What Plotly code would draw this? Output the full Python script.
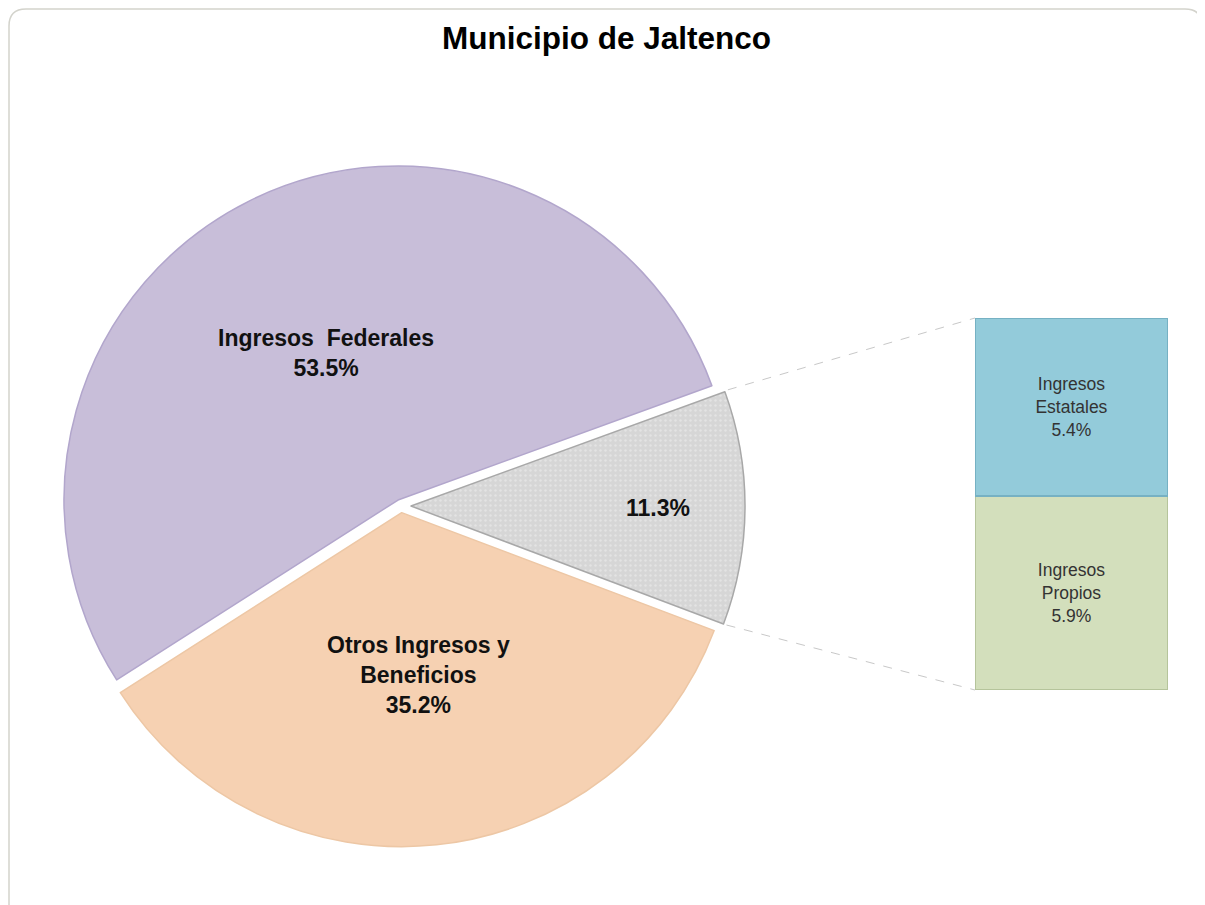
import math
import plotly.graph_objects as go

# ---------------- data ----------------
title_text = "Municipio de Jaltenco"

pie_labels = ["Ingresos Federales", "Otros Ingresos y Beneficios", "Otros"]
pie_values = [53.5, 35.2, 11.3]
pie_text = ["<b>Ingresos  Federales<br>53.5%</b>",
            "<b>Otros Ingresos y<br>Beneficios<br>35.2%</b>",
            "<b>11.3%</b>"]
pie_colors = ["#C8BED9", "#F6D1B2", "#D6D6D6"]
pie_edges = ["#B2A6CC", "#EDC7A5", "#A8A8A8"]
pie_pull = [0.02, 0.02, 0.03]
pie_label_frac = [0.49, 0.49, 0.74]

bar_labels = ["Ingresos Propios", "Ingresos Estatales"]   # bottom -> top
bar_values = [5.9, 5.4]
bar_text = ["Ingresos<br>Propios<br>5.9%", "Ingresos<br>Estatales<br>5.4%"]
bar_colors = ["#D3DFBC", "#93CBDA"]
bar_edges = ["#B5C49B", "#76B1C3"]

# ---------------- layout geometry (reference pixels) ----------------
OFF = 8                     # page body margin
W, H = 1205 - OFF, 905 - OFF
cx, cy = 401.0, 506.0
r_base = 334.0
rotation = 70.0
max_pull = max(pie_pull)
half = r_base * (1 + max_pull)

FONT = "Liberation Sans, Arial, Helvetica, sans-serif"


def px(x):
    return (x - OFF) / W


def py(y):
    return 1 - (y - OFF) / H


pie_dom_x = [px(cx - half), px(cx + half)]
pie_dom_y = [py(cy + half), py(cy - half)]

bar_px = [975, 1168]
bar_py = [318, 690]
bar_dom_x = [px(bar_px[0]), px(bar_px[1])]
bar_dom_y = [py(bar_py[1]), py(bar_py[0])]

# pie drawn clockwise, starting with the small "Otros" slice
order = [2, 1, 0]
fig = go.Figure()
fig.add_trace(go.Pie(
    labels=[pie_labels[i] for i in order],
    values=[pie_values[i] for i in order],
    sort=False,
    direction="clockwise",
    rotation=rotation,
    pull=[pie_pull[i] for i in order],
    textinfo="none",
    hoverinfo="label+percent",
    showlegend=False,
    domain=dict(x=pie_dom_x, y=pie_dom_y),
    marker=dict(
        colors=[pie_colors[i] for i in order],
        line=dict(color=[pie_edges[i] for i in order], width=1.5),
        pattern=dict(shape=[".", "", ""], fgcolor="#E3E3E3",
                     bgcolor=[pie_colors[i] for i in order],
                     fillmode="replace", size=5, solidity=0.2),
    ),
))

# stacked bar
for lab, val, txt, col, edge in zip(bar_labels, bar_values, bar_text, bar_colors, bar_edges):
    fig.add_trace(go.Bar(
        x=[0], y=[val], width=[1], name=lab,
        text=[txt], textposition="inside", insidetextanchor="middle",
        textangle=0,
        insidetextfont=dict(family=FONT, size=17.5, color="#333333"),
        marker=dict(color=col, line=dict(color=edge, width=2)),
        showlegend=False, hoverinfo="name+y",
        xaxis="x", yaxis="y",
    ))

# annotations for pie labels along slice bisectors
total = sum(pie_values)
angles = {}
a = rotation
for i in order:
    span = pie_values[i] / total * 360
    angles[i] = (a, a + span)
    a += span

annotations = []
for i in range(len(pie_values)):
    a0, a1 = angles[i]
    mid = math.radians((a0 + a1) / 2)
    pull_px = pie_pull[i] * r_base
    rr = pie_label_frac[i] * r_base + pull_px
    x = cx + rr * math.sin(mid)
    y = cy - rr * math.cos(mid)
    annotations.append(dict(
        x=px(x), y=py(y), xref="paper", yref="paper",
        text=pie_text[i], showarrow=False,
        font=dict(family=FONT, size=23, color="#111111"),
        xanchor="center", yanchor="middle", align="center",
    ))

annotations.append(dict(
    x=px(606), y=py(38), xref="paper", yref="paper",
    text="<b>" + title_text + "</b>", showarrow=False,
    font=dict(family=FONT, size=31.5, color="#000000"),
    xanchor="center", yanchor="middle",
))

# connector lines from the small slice to the bar
g0, g1 = angles[2]
gmid = math.radians((g0 + g1) / 2)
gpull = pie_pull[2] * r_base
gx = cx + gpull * math.sin(gmid)
gy = cy - gpull * math.cos(gmid)
corner_top = (gx + r_base * math.sin(math.radians(g0)), gy - r_base * math.cos(math.radians(g0)))
corner_bot = (gx + r_base * math.sin(math.radians(g1)), gy - r_base * math.cos(math.radians(g1)))

shapes = [
    dict(type="line", xref="paper", yref="paper",
         x0=px(corner_top[0] + 3), y0=py(corner_top[1] - 2),
         x1=bar_dom_x[0], y1=bar_dom_y[1],
         line=dict(color="#C8C8C8", width=1, dash="dash")),
    dict(type="line", xref="paper", yref="paper",
         x0=px(corner_bot[0] + 3), y0=py(corner_bot[1] + 1),
         x1=bar_dom_x[0], y1=bar_dom_y[0],
         line=dict(color="#C8C8C8", width=1, dash="dash")),
]

# rounded outer frame
R = 17
x0b, y0b, x1b, y1b = 9, 9, 1202, 930
path = (f"M {px(x0b)},{py(y1b)} L {px(x0b)},{py(y0b + R)} "
        f"Q {px(x0b)},{py(y0b)} {px(x0b + R)},{py(y0b)} "
        f"L {px(x1b - R)},{py(y0b)} "
        f"Q {px(x1b)},{py(y0b)} {px(x1b)},{py(y0b + R)} "
        f"L {px(x1b)},{py(y1b)}")
shapes.append(dict(type="path", xref="paper", yref="paper", path=path,
                   line=dict(color="#D3D3CC", width=1.5)))

fig.update_layout(
    width=W, height=H,
    margin=dict(l=0, r=0, t=0, b=0),
    paper_bgcolor="#FFFFFF",
    plot_bgcolor="rgba(0,0,0,0)",
    barmode="stack",
    bargap=0,
    xaxis=dict(domain=bar_dom_x, range=[-0.5, 0.5], visible=False, fixedrange=True),
    yaxis=dict(domain=bar_dom_y, range=[0, sum(bar_values)], visible=False, fixedrange=True),
    annotations=annotations,
    shapes=shapes,
    font=dict(family=FONT),
)

fig.write_html("out.html")
